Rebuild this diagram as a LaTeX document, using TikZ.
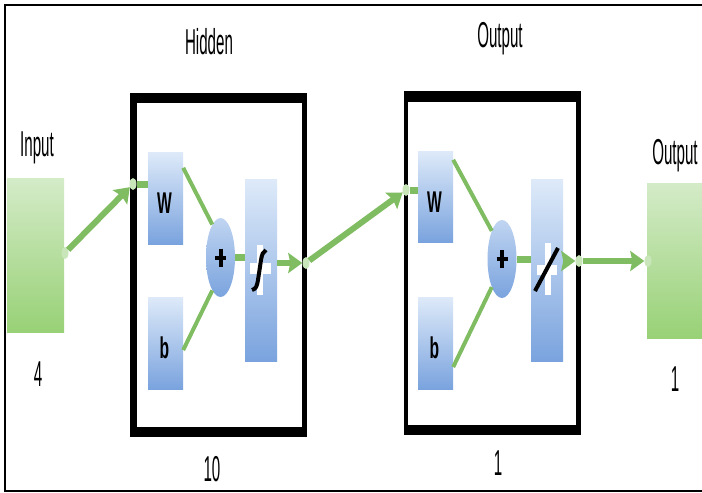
\documentclass[tikz,border=0pt]{standalone}
\usepackage{fontspec}
\usetikzlibrary{arrows.meta,shapes.geometric}
\newfontfamily\nf[FakeStretch=0.42]{Liberation Sans}
\newfontfamily\nfbold[FakeStretch=0.52]{Liberation Sans Bold}
\definecolor{agreen}{RGB}{128,189,98}
\definecolor{dgreen}{RGB}{200,230,185}
\definecolor{btop}{RGB}{222,234,249}
\definecolor{bbot}{RGB}{122,163,222}
\definecolor{gtop}{RGB}{212,235,200}
\definecolor{gbot}{RGB}{152,209,118}
\tikzset{
  lbl/.style={font=\nf\fontsize{36}{36}\selectfont, inner sep=0pt, anchor=base},
  bluebox/.style={rectangle, inner sep=0pt, top color=btop, bottom color=bbot},
  boxtxt/.style={font=\nfbold\fontsize{30}{30}\selectfont, inner sep=0pt, anchor=base},
  greenbox/.style={rectangle, inner sep=0pt, top color=gtop, bottom color=gbot},
  sumnode/.style={ellipse, inner sep=0pt, minimum width=29pt, minimum height=79pt, top color=btop!70!bbot, bottom color=bbot},
  dotn/.style={ellipse, inner sep=0pt, minimum width=7pt, minimum height=12pt, fill=dgreen},
  arr/.style={draw=agreen, line width=6pt, -{Stealth[length=14pt,width=20pt,inset=2pt]}},
  thinline/.style={draw=agreen, line width=4pt},
  stub/.style={draw=agreen, line width=7pt},
  plusline/.style={line width=4pt}
}
\begin{document}
\begin{tikzpicture}[x=1pt,y=-1pt]
\useasboundingbox (0,0) rectangle (702,493);
\fill[white] (0,0) rectangle (702,493);
\draw[line width=1.5pt] (703,5) -- (5,5) -- (5,491) -- (703,491);

% labels
\node[lbl] (thid) at (209,54) {Hidden};
\node[lbl] (tout) at (500,47) {Output};
\node[lbl] (tin) at (37,156) {Input};
\node[lbl] (tfour) at (38,386) {4};
\node[lbl] (tten) at (212,481) {10};
\node[lbl] (tone) at (498,475) {1};
\node[lbl] (tout2) at (675,164) {Output};
\node[lbl] (tone2) at (675,391) {1};

% green boxes
\node[greenbox, minimum width=57pt, minimum height=154pt] (inbox) at (35.5,255) {};
\node[greenbox, minimum width=57pt, minimum height=155pt] (outbox) at (675.5,260.5) {};

% frames
\fill (130,93) rectangle (307,437);
\fill[white] (137,103) rectangle (302,427);
\fill (404,91) rectangle (581,435);
\fill[white] (408,102) rectangle (576,425);

% hidden layer
\node[bluebox, minimum width=35pt, minimum height=92pt] (hW) at (165.5,198) {};
\node[bluebox, minimum width=35pt, minimum height=92pt] (hb) at (165.5,343) {};
\node[sumnode] (hs) at (220.5,257.5) {};
\node[bluebox, minimum width=32pt, minimum height=182pt] (ht) at (261,270) {};
\node[boxtxt] (hWt) at (164.5,213) {W};
\node[boxtxt] (hbt) at (164.5,358) {b};
% output layer
\node[bluebox, minimum width=35pt, minimum height=91pt] (oW) at (435.5,196.5) {};
\node[bluebox, minimum width=35pt, minimum height=92pt] (ob) at (435.5,343) {};
\node[sumnode, minimum height=78pt] (os) at (502,259) {};
\node[bluebox, minimum width=32pt, minimum height=182pt] (ot) at (547,270) {};
\node[boxtxt] (oWt) at (434.5,212) {W};
\node[boxtxt] (obt) at (434.5,358) {b};

% plus signs
\draw[plusline] ([yshift=9pt]hs.center) -- ([yshift=-9pt]hs.center);
\draw[plusline] ([xshift=-5.5pt]hs.center) -- ([xshift=5.5pt]hs.center);
\draw[plusline] ([yshift=9pt]os.center) -- ([yshift=-9pt]os.center);
\draw[plusline] ([xshift=-5.5pt]os.center) -- ([xshift=5.5pt]os.center);

% transfer symbols
\fill[white] (256.5,245) rectangle (263,295);
\fill[white] (250,263) rectangle (271,274);
\draw[line width=4pt] (252,290) .. controls (256,289) and (257,286) .. (258,280) -- (261,260) .. controls (262,254) and (263,252) .. (266,250);
\fill[white] (544.5,243) rectangle (550.5,295);
\fill[white] (537,265) rectangle (557,275);
\draw[line width=4pt] (535,291) -- (558,248);

% dots
\node[dotn] (d1) at (65,253) {};
\node[dotn] (d2) at (133,184) {};
\node[dotn] (d3) at (306,263) {};
\node[dotn] (d4) at (406,190) {};
\node[dotn] (d5) at (579,261) {};
\node[dotn] (d6) at (648,261) {};

% connectors
\draw[arr] (d1) -- (d2);
\draw[stub] (d2) -- (d2 -| hW.west);
\draw[thinline] ([yshift=-16pt]hW.north east) -- (hs.104);
\draw[thinline] ([yshift=-7pt]hb.east) -- (hs.-104);
\draw[stub] (hs.east) -- (hs.east -| ht.west);
\draw[arr] (ht.east |- d3) -- (d3);
\draw[arr] (d3) -- (d4);
\draw[stub] (d4) -- (d4 -| oW.west);
\draw[thinline] ([yshift=-9pt]oW.north east) -- (os.110);
\draw[thinline] ([yshift=-24pt]ob.east) -- (os.-110);
\draw[stub] (os.east) -- (os.east -| ot.west);
\draw[arr] (ot.east |- d5) -- (d5);
\draw[arr] (d5) -- (d6);
\end{tikzpicture}
\end{document}
